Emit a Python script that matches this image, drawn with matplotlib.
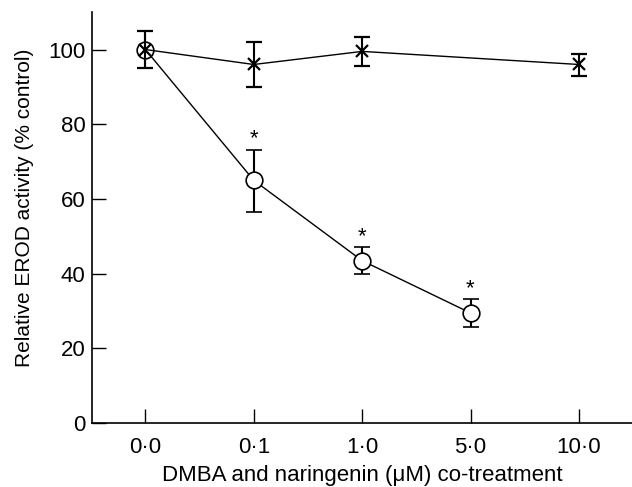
import matplotlib
matplotlib.use("Agg")
import matplotlib.pyplot as plt

plt.rcParams['font.family'] = ['Liberation Sans', 'DejaVu Sans']

doses = ["0·0", "0·1", "1·0", "5·0", "10·0"]

# naringenin only (x markers) - measured at 0, 0.1, 1, 10
nar_idx = [0, 1, 2, 4]
nar_mean = [100, 96, 99.5, 96]
nar_lo = [95, 90, 95.5, 93]
nar_hi = [105, 102, 103.3, 98.8]

# DMBA + naringenin co-treatment (circles)
co_idx = [0, 1, 2, 3]
co_mean = [100, 65, 43.5, 29.5]
co_lo = [95, 56.6, 40, 25.7]
co_hi = [105, 73.2, 47.2, 33.2]
co_sig = [False, True, True, True]

fig = plt.figure(figsize=(6.32, 4.87), dpi=100)
ax = fig.add_axes([0.146, 0.131, 0.854, 0.844])

nar_err = [[m - l for m, l in zip(nar_mean, nar_lo)],
           [h - m for m, h in zip(nar_mean, nar_hi)]]
co_err = [[m - l for m, l in zip(co_mean, co_lo)],
          [h - m for m, h in zip(co_mean, co_hi)]]

ax.errorbar(nar_idx, nar_mean, yerr=nar_err, color='black', lw=1,
            elinewidth=1.5, capsize=6, capthick=1.5,
            marker='x', ms=9, mew=1.6, zorder=3)
ax.errorbar(co_idx, co_mean, yerr=co_err, color='black', lw=1,
            elinewidth=1.5, capsize=6, capthick=1.5,
            marker='o', ms=12, mfc='white', mew=1.2, zorder=2)

for i, hi, s in zip(co_idx, co_hi, co_sig):
    if s:
        ax.annotate("*", (i, hi), xytext=(0, 0), textcoords='offset points',
                    ha='center', va='bottom', fontsize=16)

ax.set_xlim(-0.49, 4.49)
ax.set_ylim(0, 110)
ax.set_xticks(range(len(doses)))
ax.set_xticklabels(doses)
ax.set_yticks([0, 20, 40, 60, 80, 100])

ax.spines['top'].set_visible(False)
ax.spines['right'].set_visible(False)
ax.spines['left'].set_linewidth(1.2)
ax.spines['bottom'].set_linewidth(1.2)
ax.tick_params(direction='in', length=10, width=1, labelsize=16)
ax.tick_params(axis='x', pad=10)
ax.tick_params(axis='y', pad=5)

ax.set_ylabel("Relative EROD activity (% control)", fontsize=15)
ax.yaxis.set_label_coords(-0.108, 0.525)
ax.set_xlabel("DMBA and naringenin (μM) co-treatment", fontsize=16, labelpad=5)

fig.savefig("out.png", dpi=100)
